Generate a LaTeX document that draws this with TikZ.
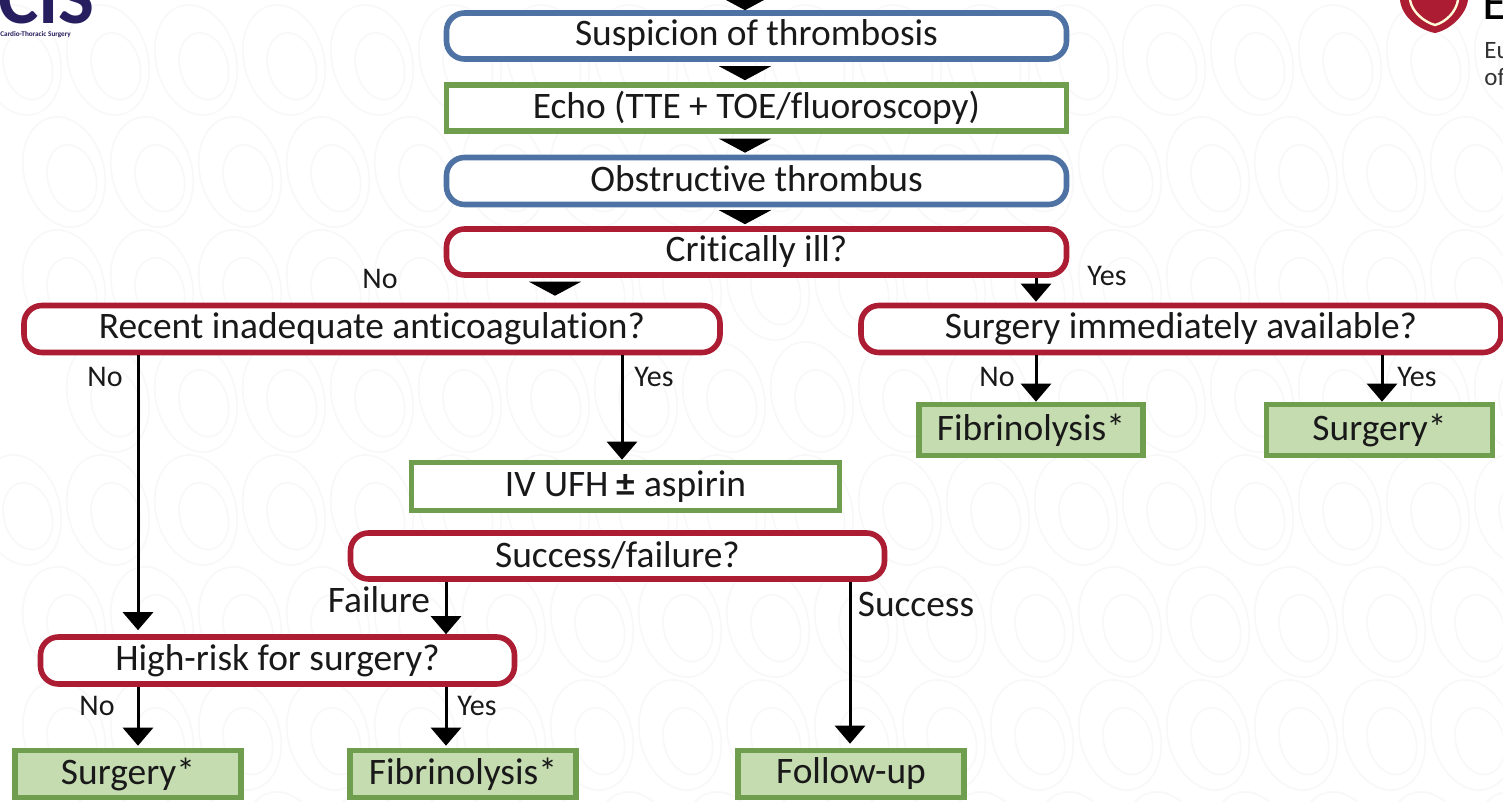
\documentclass[tikz,border=0pt]{standalone}
\usepackage{fontspec}
\setmainfont[Ligatures=NoCommon]{Carlito}
\usetikzlibrary{arrows.meta}
\definecolor{bluebox}{RGB}{79,114,165}
\definecolor{greenbox}{RGB}{111,158,78}
\definecolor{redbox}{RGB}{172,28,50}
\definecolor{greenfill}{RGB}{197,219,176}
\definecolor{navy}{RGB}{38,30,95}
\definecolor{swirl}{RGB}{248,248,250}
\tikzset{
  x=0.5pt,y=-0.5pt,
  basebox/.style={line width=2.8pt,fill=white,inner sep=0pt,font=\fontsize{18.7}{20}\selectfont,text=black!90,anchor=center},
  roundblue/.style={basebox,draw=bluebox,rounded corners=9pt},
  roundred/.style={basebox,draw=redbox,rounded corners=9pt},
  greenplain/.style={basebox,draw=greenbox},
  greenfilled/.style={basebox,draw=greenbox,fill=greenfill},
  flow/.style={line width=1.5pt,-{Triangle[width=15pt,length=9pt]}},
  blockhead/.style={line width=.6pt,shorten <=3.6pt,-{Triangle[width=26pt,length=7pt]}},
  tag/.style={font=\fontsize{15}{16}\selectfont,text=black!90,inner sep=0pt},
  bigtag/.style={font=\fontsize{18.7}{20}\selectfont,text=black!90,inner sep=0pt},
  swirlline/.style={draw=swirl,line width=.8pt}
}
\begin{document}
\begin{tikzpicture}
\useasboundingbox (0,0) rectangle (1503,802);
\clip (0,0) rectangle (1503,802);
\fill[white] (0,0) rectangle (1503,802);
% faint background texture
\foreach \r in {0,...,3}{
 \foreach \c in {0,...,17}{
  \pgfmathsetmacro{\px}{\c*88+mod(\r,2)*44+20}
  \pgfmathsetmacro{\py}{\r*225+60}
  \draw[swirlline,rotate around={15:(\px,\py)}] (\px,\py) ellipse (20pt and 28pt);
  \draw[swirlline,rotate around={15:(\px,\py)}] (\px+6,\py+8) ellipse (12pt and 17pt);
  \pgfmathsetmacro{\qy}{\py+112}
  \draw[swirlline,rotate around={15:(\px+44,\qy)}] (\px+44,\qy) ellipse (20pt and 28pt);
  \draw[swirlline,rotate around={15:(\px+44,\qy)}] (\px+50,\qy+8) ellipse (12pt and 17pt);
 }
}
% cut-off logos
\node[anchor=base west,inner sep=0pt,text=navy,font=\fontsize{38}{38}\selectfont\bfseries] (logoa) at (-2,24) {CIS};
\node[anchor=base west,inner sep=0pt,text=navy,font=\fontsize{3.6}{4}\selectfont\bfseries] (logob) at (0,37) {Cardio-Thoracic Surgery};
\fill[redbox] (1400,0) .. controls (1402,18) and (1420,30) .. (1435,33) .. controls (1450,30) and (1466,15) .. (1468,0) -- cycle;
\draw[white!85!yellow,line width=1.2pt] (1410,0) .. controls (1412,12) and (1424,22) .. (1435,25) .. controls (1446,22) and (1456,12) .. (1458,0);
\node[anchor=base west,inner sep=0pt,font=\fontsize{26}{26}\selectfont,text=black] (logoc) at (1482,20) {E};
\node[anchor=base west,inner sep=0pt,font=\fontsize{12.5}{14}\selectfont,text=black!80] (logod) at (1484,59) {Eu};
\node[anchor=base west,inner sep=0pt,font=\fontsize{12.5}{14}\selectfont,text=black!80] (logoe) at (1484,86) {of};
% boxes
\node[roundblue,minimum width=310pt,minimum height=23pt] (susp) at (756.5,36) {Suspicion of thrombosis};
\node[greenplain,minimum width=310pt,minimum height=23pt] (echo) at (756.5,108) {Echo (TTE + TOE/fluoroscopy)};
\node[roundblue,minimum width=310pt,minimum height=23.5pt] (obst) at (756.5,181) {\raisebox{2pt}{Obstructive thrombus}};
\node[roundred,minimum width=310pt,minimum height=23pt] (crit) at (756.5,252) {Critically ill?};
\node[roundred,minimum width=348pt,minimum height=23.5pt] (recent) at (372,329) {Recent inadequate anticoagulation?};
\node[roundred,minimum width=320pt,minimum height=23.5pt] (avail) at (1181,329) {Surgery immediately available?};
\node[greenfilled,minimum width=112pt,minimum height=25.5pt] (fibra) at (1031,430) {Fibrinolysis*};
\node[greenfilled,minimum width=113pt,minimum height=25.5pt] (surga) at (1379.5,430) {Surgery*};
\node[greenplain,minimum width=214pt,minimum height=24pt] (ufh) at (625.5,486.5) {\raisebox{1.5pt}{IV UFH \textbf{±} aspirin}};
\node[roundred,minimum width=267pt,minimum height=23pt] (succ) at (617.5,556) {\raisebox{1.5pt}{Success/failure?}};
\node[roundred,minimum width=237pt,minimum height=23.5pt] (high) at (277.5,660.5) {High-risk for surgery?};
\node[greenfilled,minimum width=113pt,minimum height=23.5pt] (surgb) at (128,774) {Surgery*};
\node[greenfilled,minimum width=113pt,minimum height=23.5pt] (fibrb) at (463,774) {Fibrinolysis*};
\node[greenfilled,minimum width=113pt,minimum height=23.5pt] (follow) at (851,774) {Follow-up};
% connectors
\coordinate (topin) at (745,-12);
\draw[blockhead] (topin) -- (susp.north -| 745,0);
\draw[blockhead,shorten >=1pt] (susp.south -| 745,0) -- (echo.north -| 745,0);
\draw[blockhead,shorten >=1pt] (echo.south -| 745,0) -- (obst.north -| 745,0);
\draw[blockhead,shorten >=1pt] (obst.south -| 745,0) -- (crit.north -| 745,0);
\draw[blockhead,shorten <=3.8pt,shorten >=3.5pt] (crit.south -| 555,0) -- (recent.north -| 555,0);
\draw[flow,shorten >=.5pt] (crit.south -| 1036,0) -- (avail.north -| 1036,0);
\draw[flow] (recent.south -| 138,0) -- ([yshift=2pt]high.north -| 138,0);
\draw[flow] (recent.south -| 622,0) -- (ufh.north -| 622,0);
\draw[flow] (succ.south -| 446,0) -- (high.north -| 446,0);
\draw[flow] (succ.south -| 850,0) -- ([yshift=2pt]follow.north -| 850,0);
\draw[flow] (high.south -| 138,0) -- ([yshift=1pt]surgb.north -| 138,0);
\draw[flow] (high.south -| 446,0) -- ([yshift=1pt]fibrb.north -| 446,0);
\draw[flow] (avail.south -| 1036,0) -- (fibra.north -| 1036,0);
\draw[flow] (avail.south -| 1382,0) -- (surga.north -| 1382,0);
% labels
\node[tag] (lcritno) at (380,279) {No};
\node[tag] (lcrityes) at (1107,276) {Yes};
\node[tag] (lrecno) at (105,377) {No};
\node[tag] (lrecyes) at (654,377) {Yes};
\node[tag] (lavailno) at (997,377) {No};
\node[tag] (lavailyes) at (1417,377) {Yes};
\node[bigtag] (lfail) at (379,600) {Failure};
\node[bigtag] (lsucc) at (916,604) {Success};
\node[tag] (lhighno) at (97,706) {No};
\node[tag] (lhighyes) at (477,706) {Yes};
\end{tikzpicture}
\end{document}
